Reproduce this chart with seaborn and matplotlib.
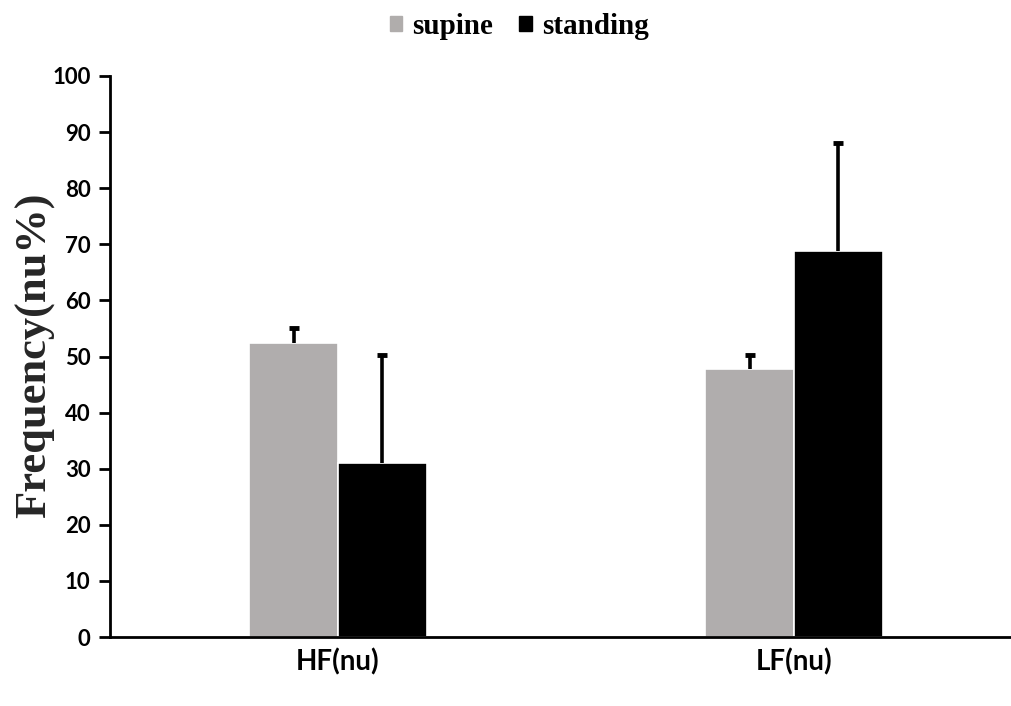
import numpy as np
import pandas as pd
import matplotlib
matplotlib.use("Agg")
import matplotlib.pyplot as plt
import seaborn as sns

categories = ["HF(nu)", "LF(nu)"]
conditions = ["supine", "standing"]
supine_vals = [52.4, 47.8]
standing_vals = [31.0, 68.8]
supine_err = [2.6, 2.5]
standing_err = [19.3, 19.3]
yticks = list(range(0, 101, 10))

colors = {"supine": "#B0ADAC", "standing": "#000000"}

df = pd.DataFrame({
    "category": categories * 2,
    "condition": ["supine"] * len(categories) + ["standing"] * len(categories),
    "value": supine_vals + standing_vals,
})
errs = {"supine": supine_err, "standing": standing_err}

sns.set_style("ticks")
plt.rcParams["font.family"] = ["DejaVu Sans Condensed", "Lato", "DejaVu Sans"]
plt.rcParams["text.color"] = "black"
plt.rcParams["xtick.color"] = "black"
plt.rcParams["ytick.color"] = "black"
plt.rcParams["xtick.labelcolor"] = "black"
plt.rcParams["ytick.labelcolor"] = "black"

fig = plt.figure(figsize=(10.12, 7.06), dpi=100)
ax = fig.add_axes([110 / 1012, 69 / 706, 912 / 1012, 561 / 706])

sns.barplot(data=df, x="category", y="value", hue="condition",
            hue_order=conditions, order=categories, palette=colors,
            width=0.39, errorbar=None, edgecolor="white", linewidth=1.2,
            legend=False, ax=ax)

for cont, cond in zip(ax.containers, conditions):
    xs = [p.get_x() + p.get_width() / 2 for p in cont]
    tops = [p.get_height() for p in cont]
    e = errs[cond]
    ax.errorbar(xs, tops, yerr=[np.zeros(len(e)), e], fmt="none",
                ecolor="black", elinewidth=2.6, capsize=0, zorder=3)
    ax.plot(xs, np.array(tops) + np.array(e), ls="none", marker="_",
            ms=7, mew=3.5, color="black", zorder=4)

ax.set_xlim(-0.5, 1.5)
ax.set_ylim(0, 100)
ax.set_yticks(yticks)
ax.set_yticklabels([str(t) for t in yticks], fontsize=16, fontweight="bold")
ax.set_xticks(range(len(categories)))
ax.set_xticklabels(categories, fontsize=20, fontweight="bold")
ax.tick_params(axis="x", length=0, pad=8)
ax.tick_params(axis="y", length=8, width=2, pad=6)
ax.set_xlabel("")
ax.set_ylabel("Frequency(nu%)", fontsize=32, fontweight="bold",
              family=["Liberation Serif", "DejaVu Serif"])
ax.yaxis.set_label_coords(-0.06, 0.503)
for s in ["top", "right"]:
    ax.spines[s].set_visible(False)
for s in ["left", "bottom"]:
    ax.spines[s].set_linewidth(2)
    ax.spines[s].set_color("black")

handles = [plt.Rectangle((0, 0), 1, 1, color=colors[c]) for c in conditions]
fig.legend(handles, conditions, loc="center", bbox_to_anchor=(0.513, 0.963),
           ncol=2, frameon=False, handlelength=0.42, handleheight=0.42,
           handletextpad=0.35, columnspacing=0.9,
           prop={"family": ["Liberation Serif"], "weight": "bold", "size": 21})

fig.savefig("out.png", dpi=100)
